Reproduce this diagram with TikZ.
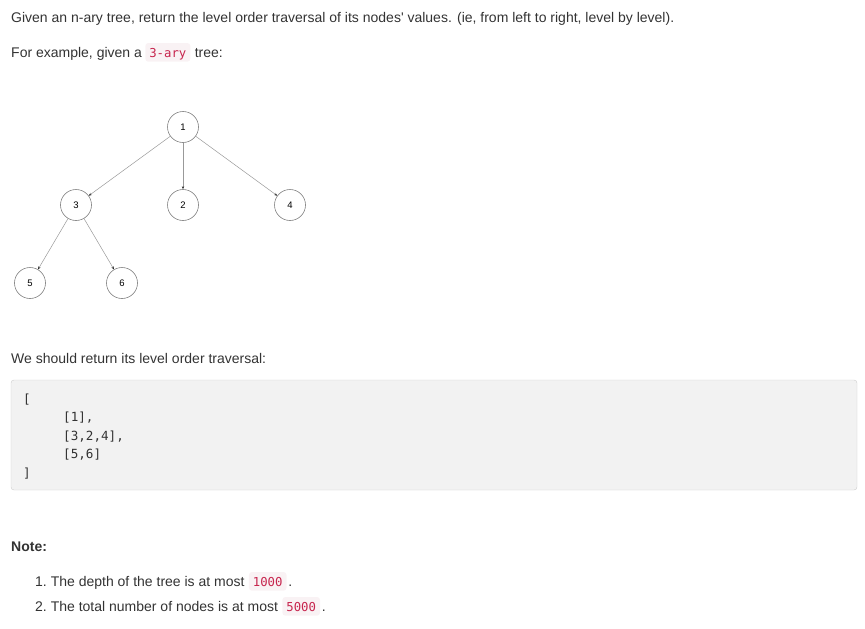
\documentclass[tikz,border=0pt]{standalone}
\usepackage{fontspec}
\setmainfont{Liberation Sans}
\setmonofont{DejaVu Sans Mono}
\usetikzlibrary{arrows.meta,positioning}
\definecolor{bodytext}{HTML}{333333}
\definecolor{chipbg}{HTML}{F9F2F4}
\definecolor{chipfg}{HTML}{C7254E}
\definecolor{prebg}{HTML}{F2F2F2}
\definecolor{preline}{HTML}{CCCCCC}

\begin{document}
\begin{tikzpicture}[x=1pt,y=-1pt,
	para/.style = {anchor=base west, inner sep=0pt, text=bodytext, font=\fontsize{14}{16}\selectfont},
	chip/.style = {anchor=base west, fill=chipbg, text=chipfg, rounded corners=3pt,
		inner xsep=4pt, inner ysep=2pt, text depth=2pt, text height=12.7pt,
		font=\ttfamily\fontsize{12.3}{14}\selectfont},
	codeline/.style = {anchor=base west, inner sep=0pt, text=bodytext, font=\ttfamily\fontsize{12.6}{14}\selectfont},
	vertex/.style = {shape=circle, draw=black!50, line width=0.6pt, minimum size=31pt,
		inner sep=0pt, font=\fontsize{9.5}{10}\selectfont},
	level distance=78pt,
	level 1/.style={sibling distance=107pt},
	level 2/.style={sibling distance=92pt},
	edge from parent/.style={draw=black!40, line width=0.5pt,
		-{Stealth[length=3pt,width=2.4pt,black!85]}}]
	\useasboundingbox (0,0) rectangle (865,629);
	% text above the tree
	\node[para] (intro) at (11,22.3) {Given an n-ary tree, return the level order traversal of its nodes\textquotesingle{} values. (ie, from left to right, level by level).};
	\node[para] (given) at (11,57.7) {For example, given a};
	\node[chip] (ary) at ([xshift=3pt]given.base east) {3-ary};
	\node[para] (treeword) at ([xshift=4pt]ary.base east) {tree:};
	% the tree
	\node[vertex] (n1) at (183,127) {1}
		child {node[vertex] (n3) {3}
			child {node[vertex] (n5) {5}}
			child {node[vertex] (n6) {6}}}
		child {node[vertex] (n2) {2}}
		child {node[vertex] (n4) {4}};
	% the answer
	\node[para] (answer) at (11,363) {We should return its level order traversal:};
	\draw[preline, fill=prebg, rounded corners=3pt] (11,380) rectangle (857,490);
	\node[codeline] (open) at (23,403) {[};
	\node[codeline] (row1) at (63,421.5) {[1],};
	\node[codeline] (row2) at (63,440) {[3,2,4],};
	\node[codeline] (row3) at (63,458.5) {[5,6]};
	\node[codeline] (close) at (23,477) {]};
	% note
	\node[para, font=\bfseries\fontsize{14}{16}\selectfont] (note) at (11,551.7) {Note:};
	\node[para] (one) at (35,586.7) {1.\ The depth of the tree is at most};
	\node[chip] (depth) at ([xshift=4pt]one.base east) {1000};
	\node[para] (dot1) at ([xshift=1.5pt]depth.base east) {.};
	\node[para] (two) at (35,611.7) {2.\ The total number of nodes is at most};
	\node[chip] (count) at ([xshift=4pt]two.base east) {5000};
	\node[para] (dot2) at ([xshift=1.5pt]count.base east) {.};
\end{tikzpicture}
\end{document}
